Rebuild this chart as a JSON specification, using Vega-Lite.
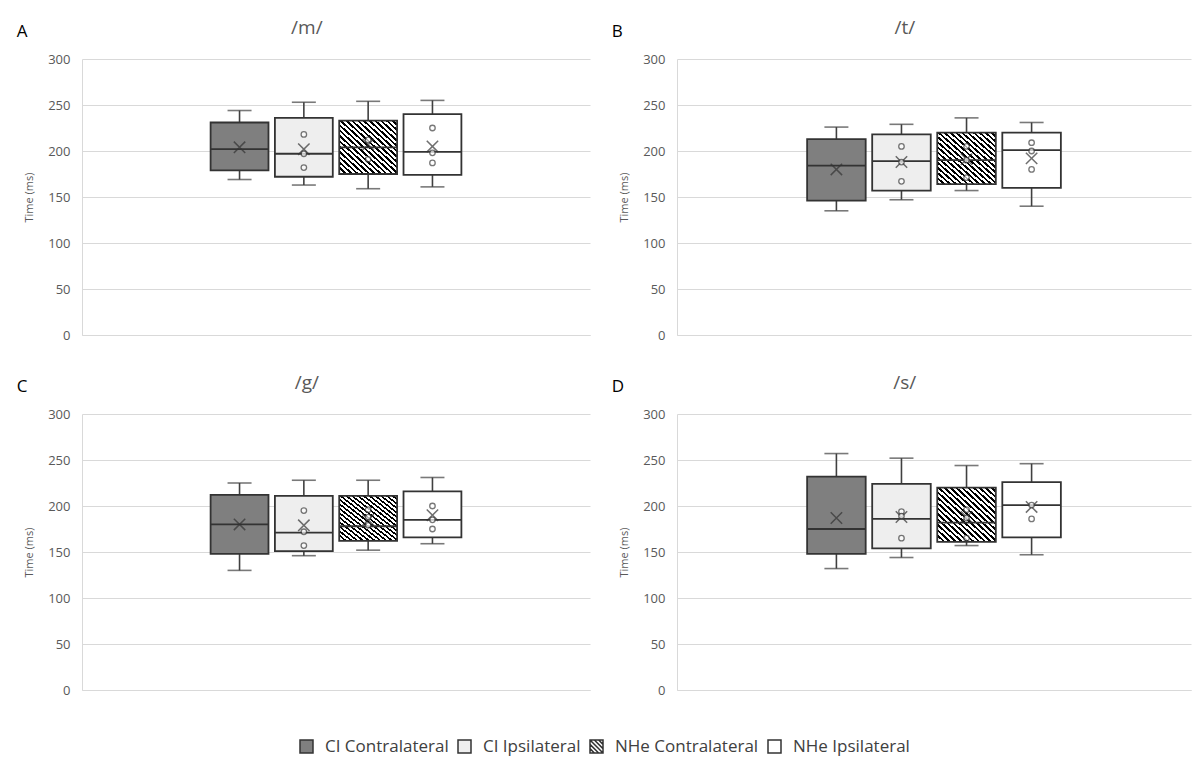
{
  "$schema": "https://vega.github.io/schema/vega-lite/v6.json",
  "background": "white",
  "padding": {"left": 16, "top": 19, "right": 5, "bottom": 0},
  "datasets": {
    "stats": [
      {"panel": "A", "group": "CI Contralateral", "lo": 169, "q1": 179, "med": 202, "q3": 231, "hi": 244, "mean": 204},
      {"panel": "A", "group": "CI Ipsilateral", "lo": 163, "q1": 172, "med": 197, "q3": 236, "hi": 253, "mean": 202},
      {"panel": "A", "group": "NHe Contralateral", "lo": 159, "q1": 175, "med": 204, "q3": 233, "hi": 254, "mean": 207},
      {"panel": "A", "group": "NHe Ipsilateral", "lo": 161, "q1": 174, "med": 199, "q3": 240, "hi": 255, "mean": 205},
      {"panel": "B", "group": "CI Contralateral", "lo": 135, "q1": 146, "med": 184, "q3": 213, "hi": 226, "mean": 180},
      {"panel": "B", "group": "CI Ipsilateral", "lo": 147, "q1": 157, "med": 189, "q3": 218, "hi": 229, "mean": 188},
      {"panel": "B", "group": "NHe Contralateral", "lo": 157, "q1": 164, "med": 190, "q3": 220, "hi": 236, "mean": 191},
      {"panel": "B", "group": "NHe Ipsilateral", "lo": 140, "q1": 160, "med": 201, "q3": 220, "hi": 231, "mean": 192},
      {"panel": "C", "group": "CI Contralateral", "lo": 130, "q1": 148, "med": 180, "q3": 212, "hi": 225, "mean": 180},
      {"panel": "C", "group": "CI Ipsilateral", "lo": 146, "q1": 151, "med": 171, "q3": 211, "hi": 228, "mean": 179},
      {"panel": "C", "group": "NHe Contralateral", "lo": 152, "q1": 162, "med": 178, "q3": 211, "hi": 228, "mean": 185},
      {"panel": "C", "group": "NHe Ipsilateral", "lo": 159, "q1": 166, "med": 185, "q3": 216, "hi": 231, "mean": 190},
      {"panel": "D", "group": "CI Contralateral", "lo": 132, "q1": 148, "med": 175, "q3": 232, "hi": 257, "mean": 187},
      {"panel": "D", "group": "CI Ipsilateral", "lo": 144, "q1": 154, "med": 186, "q3": 224, "hi": 252, "mean": 188},
      {"panel": "D", "group": "NHe Contralateral", "lo": 157, "q1": 161, "med": 182, "q3": 220, "hi": 244, "mean": 188},
      {"panel": "D", "group": "NHe Ipsilateral", "lo": 147, "q1": 166, "med": 201, "q3": 226, "hi": 246, "mean": 199}
    ],
    "pts": [
      {"panel": "A", "group": "CI Ipsilateral", "value": 218},
      {"panel": "A", "group": "CI Ipsilateral", "value": 197},
      {"panel": "A", "group": "CI Ipsilateral", "value": 182},
      {"panel": "A", "group": "NHe Contralateral", "value": 212},
      {"panel": "A", "group": "NHe Contralateral", "value": 191},
      {"panel": "A", "group": "NHe Ipsilateral", "value": 225},
      {"panel": "A", "group": "NHe Ipsilateral", "value": 198},
      {"panel": "A", "group": "NHe Ipsilateral", "value": 187},
      {"panel": "B", "group": "CI Ipsilateral", "value": 205},
      {"panel": "B", "group": "CI Ipsilateral", "value": 188},
      {"panel": "B", "group": "CI Ipsilateral", "value": 167},
      {"panel": "B", "group": "NHe Contralateral", "value": 205},
      {"panel": "B", "group": "NHe Contralateral", "value": 190},
      {"panel": "B", "group": "NHe Contralateral", "value": 171},
      {"panel": "B", "group": "NHe Ipsilateral", "value": 209},
      {"panel": "B", "group": "NHe Ipsilateral", "value": 200},
      {"panel": "B", "group": "NHe Ipsilateral", "value": 180},
      {"panel": "C", "group": "CI Ipsilateral", "value": 195},
      {"panel": "C", "group": "CI Ipsilateral", "value": 172},
      {"panel": "C", "group": "CI Ipsilateral", "value": 157},
      {"panel": "C", "group": "NHe Contralateral", "value": 196},
      {"panel": "C", "group": "NHe Contralateral", "value": 188},
      {"panel": "C", "group": "NHe Contralateral", "value": 179},
      {"panel": "C", "group": "NHe Ipsilateral", "value": 200},
      {"panel": "C", "group": "NHe Ipsilateral", "value": 185},
      {"panel": "C", "group": "NHe Ipsilateral", "value": 175},
      {"panel": "D", "group": "CI Ipsilateral", "value": 194},
      {"panel": "D", "group": "CI Ipsilateral", "value": 189},
      {"panel": "D", "group": "CI Ipsilateral", "value": 165},
      {"panel": "D", "group": "NHe Contralateral", "value": 196},
      {"panel": "D", "group": "NHe Contralateral", "value": 187},
      {"panel": "D", "group": "NHe Contralateral", "value": 165},
      {"panel": "D", "group": "NHe Ipsilateral", "value": 201},
      {"panel": "D", "group": "NHe Ipsilateral", "value": 186}
    ]
  },
  "config": {
    "font": "Open Sans",
    "view": {"stroke": null},
    "axis": {"labelFont": "Open Sans", "titleFont": "Open Sans"},
    "axisY": {"labelFontSize": 13, "labelColor": "#595959", "labelPadding": 12, "ticks": false, "gridColor": "#d9d9d9", "domainColor": "#d9d9d9", "titleFontSize": 11, "titleColor": "#595959", "titleFontWeight": "normal", "titlePadding": 13},
    "axisX": {"labels": false, "ticks": false, "title": null, "domainColor": "#d9d9d9", "grid": false},
    "title": {"font": "Open Sans", "fontWeight": "normal"},
    "legend": {"layout": {"bottom": {"anchor": "middle"}}}
  },
  "columns": 2,
  "spacing": {"row": 32, "column": 21},
  "resolve": {"scale": {"fill": "shared", "shape": "shared"}, "legend": {"fill": "shared", "shape": "shared"}},
  "concat": [
    {
      "title": {"text": "A", "anchor": "start", "frame": "bounds", "fontSize": 17, "color": "#000000", "dy": 26, "dx": -7},
      "vconcat": [{
        "title": {"text": "/m/", "anchor": "middle", "frame": "bounds", "fontSize": 19, "color": "#595959", "offset": 15},
        "width": 508, "height": 276,
        "data": {"name": "stats"},
        "transform": [{"filter": "datum.panel === 'A'"}],
        "encoding": {"x": {"field": "group", "type": "nominal", "scale": {"domain": ["pad1", "pad2", "CI Contralateral", "CI Ipsilateral", "NHe Contralateral", "NHe Ipsilateral", "pad3", "pad4"], "paddingInner": 0.1, "paddingOuter": 0}}},
        "layer": [
          {"mark": {"type": "rule", "stroke": "#404040", "strokeWidth": 1.6}, "encoding": {"y": {"field": "lo", "type": "quantitative", "scale": {"domain": [0, 300]}, "axis": {"values": [0, 50, 100, 150, 200, 250, 300], "title": "Time (ms)"}}, "y2": {"field": "hi"}}},
          {"mark": {"type": "tick", "color": "#404040", "size": 24, "thickness": 1.6}, "encoding": {"y": {"field": "lo", "type": "quantitative"}}},
          {"mark": {"type": "tick", "color": "#404040", "size": 24, "thickness": 1.6}, "encoding": {"y": {"field": "hi", "type": "quantitative"}}},
          {"mark": {"type": "bar", "stroke": "#333333", "strokeWidth": 1.8}, "encoding": {"y": {"field": "q1", "type": "quantitative"}, "y2": {"field": "q3"},
            "fill": {"field": "group", "type": "nominal",
              "condition": {"test": "datum.group === 'NHe Contralateral'", "value": {"gradient": "linear", "x1": 0, "y1": 1, "x2": 1, "y2": 0, "stops": [
              {"offset": 0, "color": "#000000"}, {"offset": 0.0225, "color": "#000000"}, {"offset": 0.0225, "color": "#ffffff"}, {"offset": 0.05, "color": "#ffffff"},
              {"offset": 0.05, "color": "#000000"}, {"offset": 0.0725, "color": "#000000"}, {"offset": 0.0725, "color": "#ffffff"}, {"offset": 0.1, "color": "#ffffff"},
              {"offset": 0.1, "color": "#000000"}, {"offset": 0.1225, "color": "#000000"}, {"offset": 0.1225, "color": "#ffffff"}, {"offset": 0.15, "color": "#ffffff"},
              {"offset": 0.15, "color": "#000000"}, {"offset": 0.1725, "color": "#000000"}, {"offset": 0.1725, "color": "#ffffff"}, {"offset": 0.2, "color": "#ffffff"},
              {"offset": 0.2, "color": "#000000"}, {"offset": 0.2225, "color": "#000000"}, {"offset": 0.2225, "color": "#ffffff"}, {"offset": 0.25, "color": "#ffffff"},
              {"offset": 0.25, "color": "#000000"}, {"offset": 0.2725, "color": "#000000"}, {"offset": 0.2725, "color": "#ffffff"}, {"offset": 0.3, "color": "#ffffff"},
              {"offset": 0.3, "color": "#000000"}, {"offset": 0.3225, "color": "#000000"}, {"offset": 0.3225, "color": "#ffffff"}, {"offset": 0.35, "color": "#ffffff"},
              {"offset": 0.35, "color": "#000000"}, {"offset": 0.3725, "color": "#000000"}, {"offset": 0.3725, "color": "#ffffff"}, {"offset": 0.4, "color": "#ffffff"},
              {"offset": 0.4, "color": "#000000"}, {"offset": 0.4225, "color": "#000000"}, {"offset": 0.4225, "color": "#ffffff"}, {"offset": 0.45, "color": "#ffffff"},
              {"offset": 0.45, "color": "#000000"}, {"offset": 0.4725, "color": "#000000"}, {"offset": 0.4725, "color": "#ffffff"}, {"offset": 0.5, "color": "#ffffff"},
              {"offset": 0.5, "color": "#000000"}, {"offset": 0.5225, "color": "#000000"}, {"offset": 0.5225, "color": "#ffffff"}, {"offset": 0.55, "color": "#ffffff"},
              {"offset": 0.55, "color": "#000000"}, {"offset": 0.5725, "color": "#000000"}, {"offset": 0.5725, "color": "#ffffff"}, {"offset": 0.6, "color": "#ffffff"},
              {"offset": 0.6, "color": "#000000"}, {"offset": 0.6225, "color": "#000000"}, {"offset": 0.6225, "color": "#ffffff"}, {"offset": 0.65, "color": "#ffffff"},
              {"offset": 0.65, "color": "#000000"}, {"offset": 0.6725, "color": "#000000"}, {"offset": 0.6725, "color": "#ffffff"}, {"offset": 0.7, "color": "#ffffff"},
              {"offset": 0.7, "color": "#000000"}, {"offset": 0.7225, "color": "#000000"}, {"offset": 0.7225, "color": "#ffffff"}, {"offset": 0.75, "color": "#ffffff"},
              {"offset": 0.75, "color": "#000000"}, {"offset": 0.7725, "color": "#000000"}, {"offset": 0.7725, "color": "#ffffff"}, {"offset": 0.8, "color": "#ffffff"},
              {"offset": 0.8, "color": "#000000"}, {"offset": 0.8225, "color": "#000000"}, {"offset": 0.8225, "color": "#ffffff"}, {"offset": 0.85, "color": "#ffffff"},
              {"offset": 0.85, "color": "#000000"}, {"offset": 0.8725, "color": "#000000"}, {"offset": 0.8725, "color": "#ffffff"}, {"offset": 0.9, "color": "#ffffff"},
              {"offset": 0.9, "color": "#000000"}, {"offset": 0.9225, "color": "#000000"}, {"offset": 0.9225, "color": "#ffffff"}, {"offset": 0.95, "color": "#ffffff"},
              {"offset": 0.95, "color": "#000000"}, {"offset": 0.9725, "color": "#000000"}, {"offset": 0.9725, "color": "#ffffff"}, {"offset": 1, "color": "#ffffff"}
            ]}},
              "scale": {"domain": ["CI Contralateral", "CI Ipsilateral", "NHe Contralateral", "NHe Ipsilateral"], "range": ["#7f7f7f", "#eeeeee", "#ffffff", "#ffffff"]},
              "legend": {"title": null, "orient": "bottom", "direction": "horizontal", "symbolType": "square", "symbolSize": 169, "labelFontSize": 17, "labelColor": "#404040", "labelFont": "Open Sans", "columnPadding": 6, "labelOffset": 10, "offset": 41,
                "encode": {"symbols": {"stroke": {"value": "#262626"}, "strokeWidth": {"value": 1.3}}}}}}},
          {"mark": {"type": "point", "size": 0, "strokeWidth": 0}, "encoding": {"y": {"field": "med", "type": "quantitative"},
            "shape": {"field": "group", "type": "nominal",
              "scale": {"domain": ["CI Contralateral", "CI Ipsilateral", "NHe Contralateral", "NHe Ipsilateral"], "range": ["square", "square", "M-1,-1H1V1H-1Z M-1,-1L1,1 M-1,-0.33L0.33,1 M-1,0.33L-0.33,1 M-0.33,-1L1,0.33 M0.33,-1L1,-0.33", "square"]},
              "legend": {"title": null, "orient": "bottom", "direction": "horizontal", "symbolType": "square", "symbolSize": 169, "labelFontSize": 17, "labelColor": "#404040", "labelFont": "Open Sans", "columnPadding": 6, "labelOffset": 10, "offset": 41,
                "encode": {"symbols": {"stroke": {"value": "#262626"}, "strokeWidth": {"value": 1.3}}}}}}},
          {"mark": {"type": "bar", "fill": "transparent", "stroke": "#333333", "strokeWidth": 1.8}, "encoding": {"y": {"field": "med", "type": "quantitative"}, "y2": {"field": "med"}}},
          {"mark": {"type": "point", "shape": "M-1,-1L1,1M-1,1L1,-1", "size": 130, "filled": false, "stroke": "#333333", "strokeWidth": 1.5}, "encoding": {"y": {"field": "mean", "type": "quantitative"}}},
          {"data": {"name": "pts"}, "transform": [{"filter": "datum.panel === 'A'"}], "mark": {"type": "point", "shape": "circle", "size": 30, "filled": true, "fill": "#ffffff", "stroke": "#404040", "strokeWidth": 1.3}, "encoding": {"y": {"field": "value", "type": "quantitative"}}}
        ]
      }]
    },
    {
      "title": {"text": "B", "anchor": "start", "frame": "bounds", "fontSize": 17, "color": "#000000", "dy": 26, "dx": -7},
      "vconcat": [{
        "title": {"text": "/t/", "anchor": "middle", "frame": "bounds", "fontSize": 19, "color": "#595959", "offset": 15},
        "width": 514, "height": 276,
        "data": {"name": "stats"},
        "transform": [{"filter": "datum.panel === 'B'"}],
        "encoding": {"x": {"field": "group", "type": "nominal", "scale": {"domain": ["pad1", "pad2", "CI Contralateral", "CI Ipsilateral", "NHe Contralateral", "NHe Ipsilateral", "pad3", "pad4"], "paddingInner": 0.1, "paddingOuter": 0}}},
        "layer": [
          {"mark": {"type": "rule", "stroke": "#404040", "strokeWidth": 1.6}, "encoding": {"y": {"field": "lo", "type": "quantitative", "scale": {"domain": [0, 300]}, "axis": {"values": [0, 50, 100, 150, 200, 250, 300], "title": "Time (ms)"}}, "y2": {"field": "hi"}}},
          {"mark": {"type": "tick", "color": "#404040", "size": 24, "thickness": 1.6}, "encoding": {"y": {"field": "lo", "type": "quantitative"}}},
          {"mark": {"type": "tick", "color": "#404040", "size": 24, "thickness": 1.6}, "encoding": {"y": {"field": "hi", "type": "quantitative"}}},
          {"mark": {"type": "bar", "stroke": "#333333", "strokeWidth": 1.8}, "encoding": {"y": {"field": "q1", "type": "quantitative"}, "y2": {"field": "q3"},
            "fill": {"field": "group", "type": "nominal",
              "condition": {"test": "datum.group === 'NHe Contralateral'", "value": {"gradient": "linear", "x1": 0, "y1": 1, "x2": 1, "y2": 0, "stops": [
              {"offset": 0, "color": "#000000"}, {"offset": 0.0225, "color": "#000000"}, {"offset": 0.0225, "color": "#ffffff"}, {"offset": 0.05, "color": "#ffffff"},
              {"offset": 0.05, "color": "#000000"}, {"offset": 0.0725, "color": "#000000"}, {"offset": 0.0725, "color": "#ffffff"}, {"offset": 0.1, "color": "#ffffff"},
              {"offset": 0.1, "color": "#000000"}, {"offset": 0.1225, "color": "#000000"}, {"offset": 0.1225, "color": "#ffffff"}, {"offset": 0.15, "color": "#ffffff"},
              {"offset": 0.15, "color": "#000000"}, {"offset": 0.1725, "color": "#000000"}, {"offset": 0.1725, "color": "#ffffff"}, {"offset": 0.2, "color": "#ffffff"},
              {"offset": 0.2, "color": "#000000"}, {"offset": 0.2225, "color": "#000000"}, {"offset": 0.2225, "color": "#ffffff"}, {"offset": 0.25, "color": "#ffffff"},
              {"offset": 0.25, "color": "#000000"}, {"offset": 0.2725, "color": "#000000"}, {"offset": 0.2725, "color": "#ffffff"}, {"offset": 0.3, "color": "#ffffff"},
              {"offset": 0.3, "color": "#000000"}, {"offset": 0.3225, "color": "#000000"}, {"offset": 0.3225, "color": "#ffffff"}, {"offset": 0.35, "color": "#ffffff"},
              {"offset": 0.35, "color": "#000000"}, {"offset": 0.3725, "color": "#000000"}, {"offset": 0.3725, "color": "#ffffff"}, {"offset": 0.4, "color": "#ffffff"},
              {"offset": 0.4, "color": "#000000"}, {"offset": 0.4225, "color": "#000000"}, {"offset": 0.4225, "color": "#ffffff"}, {"offset": 0.45, "color": "#ffffff"},
              {"offset": 0.45, "color": "#000000"}, {"offset": 0.4725, "color": "#000000"}, {"offset": 0.4725, "color": "#ffffff"}, {"offset": 0.5, "color": "#ffffff"},
              {"offset": 0.5, "color": "#000000"}, {"offset": 0.5225, "color": "#000000"}, {"offset": 0.5225, "color": "#ffffff"}, {"offset": 0.55, "color": "#ffffff"},
              {"offset": 0.55, "color": "#000000"}, {"offset": 0.5725, "color": "#000000"}, {"offset": 0.5725, "color": "#ffffff"}, {"offset": 0.6, "color": "#ffffff"},
              {"offset": 0.6, "color": "#000000"}, {"offset": 0.6225, "color": "#000000"}, {"offset": 0.6225, "color": "#ffffff"}, {"offset": 0.65, "color": "#ffffff"},
              {"offset": 0.65, "color": "#000000"}, {"offset": 0.6725, "color": "#000000"}, {"offset": 0.6725, "color": "#ffffff"}, {"offset": 0.7, "color": "#ffffff"},
              {"offset": 0.7, "color": "#000000"}, {"offset": 0.7225, "color": "#000000"}, {"offset": 0.7225, "color": "#ffffff"}, {"offset": 0.75, "color": "#ffffff"},
              {"offset": 0.75, "color": "#000000"}, {"offset": 0.7725, "color": "#000000"}, {"offset": 0.7725, "color": "#ffffff"}, {"offset": 0.8, "color": "#ffffff"},
              {"offset": 0.8, "color": "#000000"}, {"offset": 0.8225, "color": "#000000"}, {"offset": 0.8225, "color": "#ffffff"}, {"offset": 0.85, "color": "#ffffff"},
              {"offset": 0.85, "color": "#000000"}, {"offset": 0.8725, "color": "#000000"}, {"offset": 0.8725, "color": "#ffffff"}, {"offset": 0.9, "color": "#ffffff"},
              {"offset": 0.9, "color": "#000000"}, {"offset": 0.9225, "color": "#000000"}, {"offset": 0.9225, "color": "#ffffff"}, {"offset": 0.95, "color": "#ffffff"},
              {"offset": 0.95, "color": "#000000"}, {"offset": 0.9725, "color": "#000000"}, {"offset": 0.9725, "color": "#ffffff"}, {"offset": 1, "color": "#ffffff"}
            ]}}}}},
          {"mark": {"type": "bar", "fill": "transparent", "stroke": "#333333", "strokeWidth": 1.8}, "encoding": {"y": {"field": "med", "type": "quantitative"}, "y2": {"field": "med"}}},
          {"mark": {"type": "point", "shape": "M-1,-1L1,1M-1,1L1,-1", "size": 130, "filled": false, "stroke": "#333333", "strokeWidth": 1.5}, "encoding": {"y": {"field": "mean", "type": "quantitative"}}},
          {"data": {"name": "pts"}, "transform": [{"filter": "datum.panel === 'B'"}], "mark": {"type": "point", "shape": "circle", "size": 30, "filled": true, "fill": "#ffffff", "stroke": "#404040", "strokeWidth": 1.3}, "encoding": {"y": {"field": "value", "type": "quantitative"}}}
        ]
      }]
    },
    {
      "title": {"text": "C", "anchor": "start", "frame": "bounds", "fontSize": 17, "color": "#000000", "dy": 26, "dx": -7},
      "vconcat": [{
        "title": {"text": "/g/", "anchor": "middle", "frame": "bounds", "fontSize": 19, "color": "#595959", "offset": 15},
        "width": 508, "height": 276,
        "data": {"name": "stats"},
        "transform": [{"filter": "datum.panel === 'C'"}],
        "encoding": {"x": {"field": "group", "type": "nominal", "scale": {"domain": ["pad1", "pad2", "CI Contralateral", "CI Ipsilateral", "NHe Contralateral", "NHe Ipsilateral", "pad3", "pad4"], "paddingInner": 0.1, "paddingOuter": 0}}},
        "layer": [
          {"mark": {"type": "rule", "stroke": "#404040", "strokeWidth": 1.6}, "encoding": {"y": {"field": "lo", "type": "quantitative", "scale": {"domain": [0, 300]}, "axis": {"values": [0, 50, 100, 150, 200, 250, 300], "title": "Time (ms)"}}, "y2": {"field": "hi"}}},
          {"mark": {"type": "tick", "color": "#404040", "size": 24, "thickness": 1.6}, "encoding": {"y": {"field": "lo", "type": "quantitative"}}},
          {"mark": {"type": "tick", "color": "#404040", "size": 24, "thickness": 1.6}, "encoding": {"y": {"field": "hi", "type": "quantitative"}}},
          {"mark": {"type": "bar", "stroke": "#333333", "strokeWidth": 1.8}, "encoding": {"y": {"field": "q1", "type": "quantitative"}, "y2": {"field": "q3"},
            "fill": {"field": "group", "type": "nominal",
              "condition": {"test": "datum.group === 'NHe Contralateral'", "value": {"gradient": "linear", "x1": 0, "y1": 1, "x2": 1, "y2": 0, "stops": [
              {"offset": 0, "color": "#000000"}, {"offset": 0.0225, "color": "#000000"}, {"offset": 0.0225, "color": "#ffffff"}, {"offset": 0.05, "color": "#ffffff"},
              {"offset": 0.05, "color": "#000000"}, {"offset": 0.0725, "color": "#000000"}, {"offset": 0.0725, "color": "#ffffff"}, {"offset": 0.1, "color": "#ffffff"},
              {"offset": 0.1, "color": "#000000"}, {"offset": 0.1225, "color": "#000000"}, {"offset": 0.1225, "color": "#ffffff"}, {"offset": 0.15, "color": "#ffffff"},
              {"offset": 0.15, "color": "#000000"}, {"offset": 0.1725, "color": "#000000"}, {"offset": 0.1725, "color": "#ffffff"}, {"offset": 0.2, "color": "#ffffff"},
              {"offset": 0.2, "color": "#000000"}, {"offset": 0.2225, "color": "#000000"}, {"offset": 0.2225, "color": "#ffffff"}, {"offset": 0.25, "color": "#ffffff"},
              {"offset": 0.25, "color": "#000000"}, {"offset": 0.2725, "color": "#000000"}, {"offset": 0.2725, "color": "#ffffff"}, {"offset": 0.3, "color": "#ffffff"},
              {"offset": 0.3, "color": "#000000"}, {"offset": 0.3225, "color": "#000000"}, {"offset": 0.3225, "color": "#ffffff"}, {"offset": 0.35, "color": "#ffffff"},
              {"offset": 0.35, "color": "#000000"}, {"offset": 0.3725, "color": "#000000"}, {"offset": 0.3725, "color": "#ffffff"}, {"offset": 0.4, "color": "#ffffff"},
              {"offset": 0.4, "color": "#000000"}, {"offset": 0.4225, "color": "#000000"}, {"offset": 0.4225, "color": "#ffffff"}, {"offset": 0.45, "color": "#ffffff"},
              {"offset": 0.45, "color": "#000000"}, {"offset": 0.4725, "color": "#000000"}, {"offset": 0.4725, "color": "#ffffff"}, {"offset": 0.5, "color": "#ffffff"},
              {"offset": 0.5, "color": "#000000"}, {"offset": 0.5225, "color": "#000000"}, {"offset": 0.5225, "color": "#ffffff"}, {"offset": 0.55, "color": "#ffffff"},
              {"offset": 0.55, "color": "#000000"}, {"offset": 0.5725, "color": "#000000"}, {"offset": 0.5725, "color": "#ffffff"}, {"offset": 0.6, "color": "#ffffff"},
              {"offset": 0.6, "color": "#000000"}, {"offset": 0.6225, "color": "#000000"}, {"offset": 0.6225, "color": "#ffffff"}, {"offset": 0.65, "color": "#ffffff"},
              {"offset": 0.65, "color": "#000000"}, {"offset": 0.6725, "color": "#000000"}, {"offset": 0.6725, "color": "#ffffff"}, {"offset": 0.7, "color": "#ffffff"},
              {"offset": 0.7, "color": "#000000"}, {"offset": 0.7225, "color": "#000000"}, {"offset": 0.7225, "color": "#ffffff"}, {"offset": 0.75, "color": "#ffffff"},
              {"offset": 0.75, "color": "#000000"}, {"offset": 0.7725, "color": "#000000"}, {"offset": 0.7725, "color": "#ffffff"}, {"offset": 0.8, "color": "#ffffff"},
              {"offset": 0.8, "color": "#000000"}, {"offset": 0.8225, "color": "#000000"}, {"offset": 0.8225, "color": "#ffffff"}, {"offset": 0.85, "color": "#ffffff"},
              {"offset": 0.85, "color": "#000000"}, {"offset": 0.8725, "color": "#000000"}, {"offset": 0.8725, "color": "#ffffff"}, {"offset": 0.9, "color": "#ffffff"},
              {"offset": 0.9, "color": "#000000"}, {"offset": 0.9225, "color": "#000000"}, {"offset": 0.9225, "color": "#ffffff"}, {"offset": 0.95, "color": "#ffffff"},
              {"offset": 0.95, "color": "#000000"}, {"offset": 0.9725, "color": "#000000"}, {"offset": 0.9725, "color": "#ffffff"}, {"offset": 1, "color": "#ffffff"}
            ]}}}}},
          {"mark": {"type": "bar", "fill": "transparent", "stroke": "#333333", "strokeWidth": 1.8}, "encoding": {"y": {"field": "med", "type": "quantitative"}, "y2": {"field": "med"}}},
          {"mark": {"type": "point", "shape": "M-1,-1L1,1M-1,1L1,-1", "size": 130, "filled": false, "stroke": "#333333", "strokeWidth": 1.5}, "encoding": {"y": {"field": "mean", "type": "quantitative"}}},
          {"data": {"name": "pts"}, "transform": [{"filter": "datum.panel === 'C'"}], "mark": {"type": "point", "shape": "circle", "size": 30, "filled": true, "fill": "#ffffff", "stroke": "#404040", "strokeWidth": 1.3}, "encoding": {"y": {"field": "value", "type": "quantitative"}}}
        ]
      }]
    },
    {
      "title": {"text": "D", "anchor": "start", "frame": "bounds", "fontSize": 17, "color": "#000000", "dy": 26, "dx": -7},
      "vconcat": [{
        "title": {"text": "/s/", "anchor": "middle", "frame": "bounds", "fontSize": 19, "color": "#595959", "offset": 15},
        "width": 514, "height": 276,
        "data": {"name": "stats"},
        "transform": [{"filter": "datum.panel === 'D'"}],
        "encoding": {"x": {"field": "group", "type": "nominal", "scale": {"domain": ["pad1", "pad2", "CI Contralateral", "CI Ipsilateral", "NHe Contralateral", "NHe Ipsilateral", "pad3", "pad4"], "paddingInner": 0.1, "paddingOuter": 0}}},
        "layer": [
          {"mark": {"type": "rule", "stroke": "#404040", "strokeWidth": 1.6}, "encoding": {"y": {"field": "lo", "type": "quantitative", "scale": {"domain": [0, 300]}, "axis": {"values": [0, 50, 100, 150, 200, 250, 300], "title": "Time (ms)"}}, "y2": {"field": "hi"}}},
          {"mark": {"type": "tick", "color": "#404040", "size": 24, "thickness": 1.6}, "encoding": {"y": {"field": "lo", "type": "quantitative"}}},
          {"mark": {"type": "tick", "color": "#404040", "size": 24, "thickness": 1.6}, "encoding": {"y": {"field": "hi", "type": "quantitative"}}},
          {"mark": {"type": "bar", "stroke": "#333333", "strokeWidth": 1.8}, "encoding": {"y": {"field": "q1", "type": "quantitative"}, "y2": {"field": "q3"},
            "fill": {"field": "group", "type": "nominal",
              "condition": {"test": "datum.group === 'NHe Contralateral'", "value": {"gradient": "linear", "x1": 0, "y1": 1, "x2": 1, "y2": 0, "stops": [
              {"offset": 0, "color": "#000000"}, {"offset": 0.0225, "color": "#000000"}, {"offset": 0.0225, "color": "#ffffff"}, {"offset": 0.05, "color": "#ffffff"},
              {"offset": 0.05, "color": "#000000"}, {"offset": 0.0725, "color": "#000000"}, {"offset": 0.0725, "color": "#ffffff"}, {"offset": 0.1, "color": "#ffffff"},
              {"offset": 0.1, "color": "#000000"}, {"offset": 0.1225, "color": "#000000"}, {"offset": 0.1225, "color": "#ffffff"}, {"offset": 0.15, "color": "#ffffff"},
              {"offset": 0.15, "color": "#000000"}, {"offset": 0.1725, "color": "#000000"}, {"offset": 0.1725, "color": "#ffffff"}, {"offset": 0.2, "color": "#ffffff"},
              {"offset": 0.2, "color": "#000000"}, {"offset": 0.2225, "color": "#000000"}, {"offset": 0.2225, "color": "#ffffff"}, {"offset": 0.25, "color": "#ffffff"},
              {"offset": 0.25, "color": "#000000"}, {"offset": 0.2725, "color": "#000000"}, {"offset": 0.2725, "color": "#ffffff"}, {"offset": 0.3, "color": "#ffffff"},
              {"offset": 0.3, "color": "#000000"}, {"offset": 0.3225, "color": "#000000"}, {"offset": 0.3225, "color": "#ffffff"}, {"offset": 0.35, "color": "#ffffff"},
              {"offset": 0.35, "color": "#000000"}, {"offset": 0.3725, "color": "#000000"}, {"offset": 0.3725, "color": "#ffffff"}, {"offset": 0.4, "color": "#ffffff"},
              {"offset": 0.4, "color": "#000000"}, {"offset": 0.4225, "color": "#000000"}, {"offset": 0.4225, "color": "#ffffff"}, {"offset": 0.45, "color": "#ffffff"},
              {"offset": 0.45, "color": "#000000"}, {"offset": 0.4725, "color": "#000000"}, {"offset": 0.4725, "color": "#ffffff"}, {"offset": 0.5, "color": "#ffffff"},
              {"offset": 0.5, "color": "#000000"}, {"offset": 0.5225, "color": "#000000"}, {"offset": 0.5225, "color": "#ffffff"}, {"offset": 0.55, "color": "#ffffff"},
              {"offset": 0.55, "color": "#000000"}, {"offset": 0.5725, "color": "#000000"}, {"offset": 0.5725, "color": "#ffffff"}, {"offset": 0.6, "color": "#ffffff"},
              {"offset": 0.6, "color": "#000000"}, {"offset": 0.6225, "color": "#000000"}, {"offset": 0.6225, "color": "#ffffff"}, {"offset": 0.65, "color": "#ffffff"},
              {"offset": 0.65, "color": "#000000"}, {"offset": 0.6725, "color": "#000000"}, {"offset": 0.6725, "color": "#ffffff"}, {"offset": 0.7, "color": "#ffffff"},
              {"offset": 0.7, "color": "#000000"}, {"offset": 0.7225, "color": "#000000"}, {"offset": 0.7225, "color": "#ffffff"}, {"offset": 0.75, "color": "#ffffff"},
              {"offset": 0.75, "color": "#000000"}, {"offset": 0.7725, "color": "#000000"}, {"offset": 0.7725, "color": "#ffffff"}, {"offset": 0.8, "color": "#ffffff"},
              {"offset": 0.8, "color": "#000000"}, {"offset": 0.8225, "color": "#000000"}, {"offset": 0.8225, "color": "#ffffff"}, {"offset": 0.85, "color": "#ffffff"},
              {"offset": 0.85, "color": "#000000"}, {"offset": 0.8725, "color": "#000000"}, {"offset": 0.8725, "color": "#ffffff"}, {"offset": 0.9, "color": "#ffffff"},
              {"offset": 0.9, "color": "#000000"}, {"offset": 0.9225, "color": "#000000"}, {"offset": 0.9225, "color": "#ffffff"}, {"offset": 0.95, "color": "#ffffff"},
              {"offset": 0.95, "color": "#000000"}, {"offset": 0.9725, "color": "#000000"}, {"offset": 0.9725, "color": "#ffffff"}, {"offset": 1, "color": "#ffffff"}
            ]}}}}},
          {"mark": {"type": "bar", "fill": "transparent", "stroke": "#333333", "strokeWidth": 1.8}, "encoding": {"y": {"field": "med", "type": "quantitative"}, "y2": {"field": "med"}}},
          {"mark": {"type": "point", "shape": "M-1,-1L1,1M-1,1L1,-1", "size": 130, "filled": false, "stroke": "#333333", "strokeWidth": 1.5}, "encoding": {"y": {"field": "mean", "type": "quantitative"}}},
          {"data": {"name": "pts"}, "transform": [{"filter": "datum.panel === 'D'"}], "mark": {"type": "point", "shape": "circle", "size": 30, "filled": true, "fill": "#ffffff", "stroke": "#404040", "strokeWidth": 1.3}, "encoding": {"y": {"field": "value", "type": "quantitative"}}}
        ]
      }]
    }
  ]
}
